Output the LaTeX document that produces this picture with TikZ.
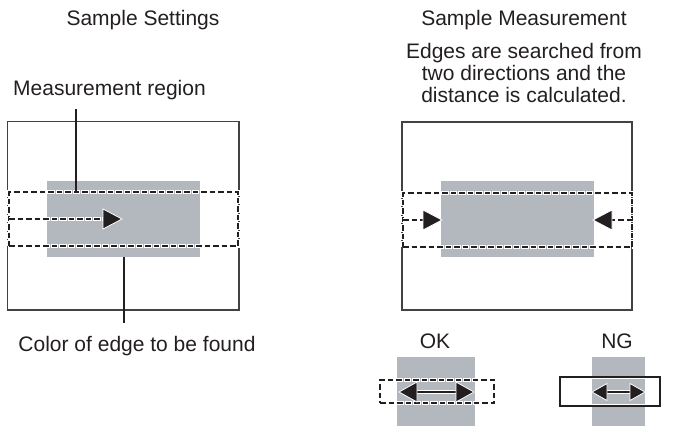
\documentclass[tikz,border=0pt]{standalone}
\usepackage{fontspec}
\setmainfont{Liberation Sans}
\usetikzlibrary{calc}
\definecolor{boxgray}{RGB}{179,184,191}
\definecolor{ink}{RGB}{35,31,32}
\begin{document}
\begin{tikzpicture}[x=1pt,y=-1pt,
  font=\fontsize{21}{22}\selectfont, text=ink,
  lbl/.style={inner sep=0pt, anchor=base},
  frame/.style={draw=ink!85, line width=1.3pt, inner sep=0pt, outer sep=0pt},
  graybox/.style={fill=boxgray, inner sep=0pt, outer sep=0pt},
  halodash/.style={draw=ink, line width=1.5pt, dash pattern=on 5.5pt off 3pt,
     preaction={draw=white, line width=3.3pt, dash pattern=on 7.5pt off 1pt, dash phase=1pt}},
  dashbox/.style={halodash, inner sep=0pt, outer sep=0pt},
  leader/.style={draw=ink, line width=1.3pt},
  halosolid/.style={draw=ink, line width=1.8pt, preaction={draw=white, line width=4pt}},
  headstyle/.style={fill=ink, draw=white, line width=0.8pt, line join=miter},
  bighead/.pic={\path[headstyle] (0,0) -- (-19,-10) -- (-19,10) -- cycle;},
  okhead/.pic={\path[headstyle] (0,0) -- (-18,-10) -- (-18,10) -- cycle;},
  nghead/.pic={\path[headstyle] (0,0) -- (-15,-8.5) -- (-15,8.5) -- cycle;},
]
\useasboundingbox (0,0) rectangle (679,429);

% ---------- left: sample settings ----------
\node[lbl] (t1) at (143,25) {Sample Settings};
\node[lbl, anchor=base west] (mr) at (13,95) {Measurement region};
\node[lbl] (col) at (137,351) {Color of edge to be found};

\node[frame, minimum width=231.5pt, minimum height=188.5pt] (lframe) at (123.25,215.75) {};
\node[graybox, minimum width=153pt, minimum height=76pt] (lgray) at (123.5,219) {};
\node[dashbox, minimum width=229pt, minimum height=54pt] (ldash) at (123.5,219) {};

\coordinate (la) at (122,219);
\draw[halodash] (ldash.west) -- ($(la)+(-16,0)$);
\pic at (la) {bighead};

\coordinate (ltop) at (76,109);
\coordinate (lbot) at (124,323);
\draw[leader] (ltop) -- (ltop |- ldash.north);
\draw[leader] (lgray.south -| lbot) -- (lbot);

% ---------- right: sample measurement ----------
\node[lbl] (t2) at (524,25) {Sample Measurement};
\node[lbl] (e1) at (524,58) {Edges are searched from};
\node[lbl] (e2) at (524,80) {two directions and the};
\node[lbl] (e3) at (524,102) {distance is calculated.};

\node[frame, minimum width=230pt, minimum height=188pt] (rframe) at (517,216) {};
\node[graybox, minimum width=153pt, minimum height=76pt] (rgray) at (517.5,219) {};
\node[dashbox, minimum width=229pt, minimum height=54pt] (rdash) at (517.5,220) {};

\coordinate (ra1) at (442,220);
\coordinate (ra2) at (593,220);
\draw[halodash] (rdash.west) -- ($(ra1)+(-16,0)$);
\draw[halodash] (rdash.east) -- ($(ra2)+(16,0)$);
\pic at (ra1) {bighead};
\pic[rotate=180] at (ra2) {bighead};

% ---------- OK ----------
\node[lbl] (ok) at (435,348) {OK};
\node[graybox, minimum width=78pt, minimum height=69pt] (okgray) at (436,391.5) {};
\node[dashbox, minimum width=114pt, minimum height=23pt] (okdash) at (437,391.5) {};
\coordinate (oka) at (399,392);
\coordinate (okb) at (474,392);
\draw[halosolid] ($(oka)+(16,0)$) -- ($(okb)+(-16,0)$);
\pic[rotate=180] at (oka) {okhead};
\pic at (okb) {okhead};

% ---------- NG ----------
\node[lbl] (ng) at (617,348) {NG};
\node[graybox, minimum width=53pt, minimum height=69pt] (nggray) at (618.5,391.5) {};
\node[draw=white, line width=1pt, inner sep=0pt, minimum width=97pt, minimum height=26pt] (nginner) at (610,391.5) {};
\node[draw=ink, line width=1.6pt, inner sep=0pt, minimum width=100pt, minimum height=29pt] (ngbox) at (610,391.5) {};
\coordinate (nga) at (592,392);
\coordinate (ngb) at (645,392);
\draw[halosolid] ($(nga)+(13,0)$) -- ($(ngb)+(-13,0)$);
\pic[rotate=180] at (nga) {nghead};
\pic at (ngb) {nghead};
\end{tikzpicture}
\end{document}
